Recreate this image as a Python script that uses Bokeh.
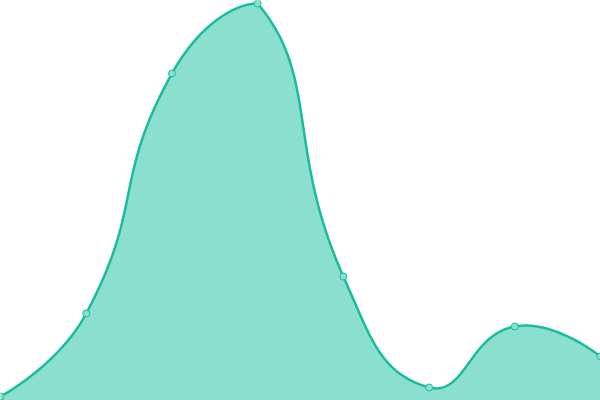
import numpy as np
from bokeh.plotting import figure
from bokeh.models import Range1d, ColumnDataSource
from bokeh.embed import file_html
from bokeh.resources import INLINE

# data
categories = ["A", "B", "C", "D", "E", "F", "G", "H"]
values = [4, 87, 327, 397, 124, 13, 74, 44]

W, H = 600, 400
Y_MAX = 400
SMOOTH = 0.5

xs = np.arange(len(values), dtype=float)
x_max = float(len(values) - 1)

# pixel-space points (smoothing done in screen space, like a canvas renderer)
px = xs * W / x_max
py = H - np.array(values, dtype=float) * H / Y_MAX


def smooth_path(px, py, smooth):
    n = len(px)
    pts = np.stack([px, py], axis=1)
    lo = pts.min(axis=0)
    hi = pts.max(axis=0)
    segs = []
    cp0 = pts[0].copy()
    for i in range(1, n):
        p = pts[i]
        prev = pts[i - 1]
        if i == n - 1:
            cp1 = p.copy()
            ncp0 = p.copy()
        else:
            nxt = pts[i + 1]
            v = nxt - prev
            lp = np.hypot(*(p - prev))
            ln = np.hypot(*(nxt - p))
            r = ln / (ln + lp)
            cp1 = p - v * smooth * (1 - r)
            ncp0 = p + v * smooth * r
        c0 = np.minimum(np.maximum(cp0, lo), hi)
        c1 = np.minimum(np.maximum(cp1, lo), hi)
        segs.append((prev, c0, c1, p))
        cp0 = ncp0
    out_x, out_y = [px[0]], [py[0]]
    t = np.linspace(0, 1, 60)[1:]
    for (p0, c0, c1, p1) in segs:
        b = (np.outer((1 - t) ** 3, p0) + np.outer(3 * (1 - t) ** 2 * t, c0)
             + np.outer(3 * (1 - t) * t ** 2, c1) + np.outer(t ** 3, p1))
        out_x.extend(b[:, 0]); out_y.extend(b[:, 1])
    return np.array(out_x), np.array(out_y)


sx, sy = smooth_path(px, py, SMOOTH)
cx = sx * x_max / W
cy = (H - sy) * Y_MAX / H

p = figure(width=W, height=H, output_backend="svg", toolbar_location=None,
           x_range=Range1d(0, x_max), y_range=Range1d(0, Y_MAX),
           min_border=0, min_border_left=0, min_border_right=0,
           min_border_top=0, min_border_bottom=0)
p.axis.visible = False
p.grid.visible = False
p.outline_line_color = None
p.background_fill_color = "white"
p.border_fill_color = "white"

LINE = "#1abc9c"
FILL = "#8adfcf"

p.varea(x=cx, y1=np.zeros_like(cy), y2=cy, fill_color=FILL, fill_alpha=1.0)
p.line(cx, cy, line_color=LINE, line_width=2.5)
src = ColumnDataSource(dict(x=xs, y=values, cat=categories))
p.scatter("x", "y", source=src, size=7, marker="circle",
          fill_color=FILL, line_color=LINE, line_width=1)

open("out.html", "w").write(file_html(p, INLINE))
